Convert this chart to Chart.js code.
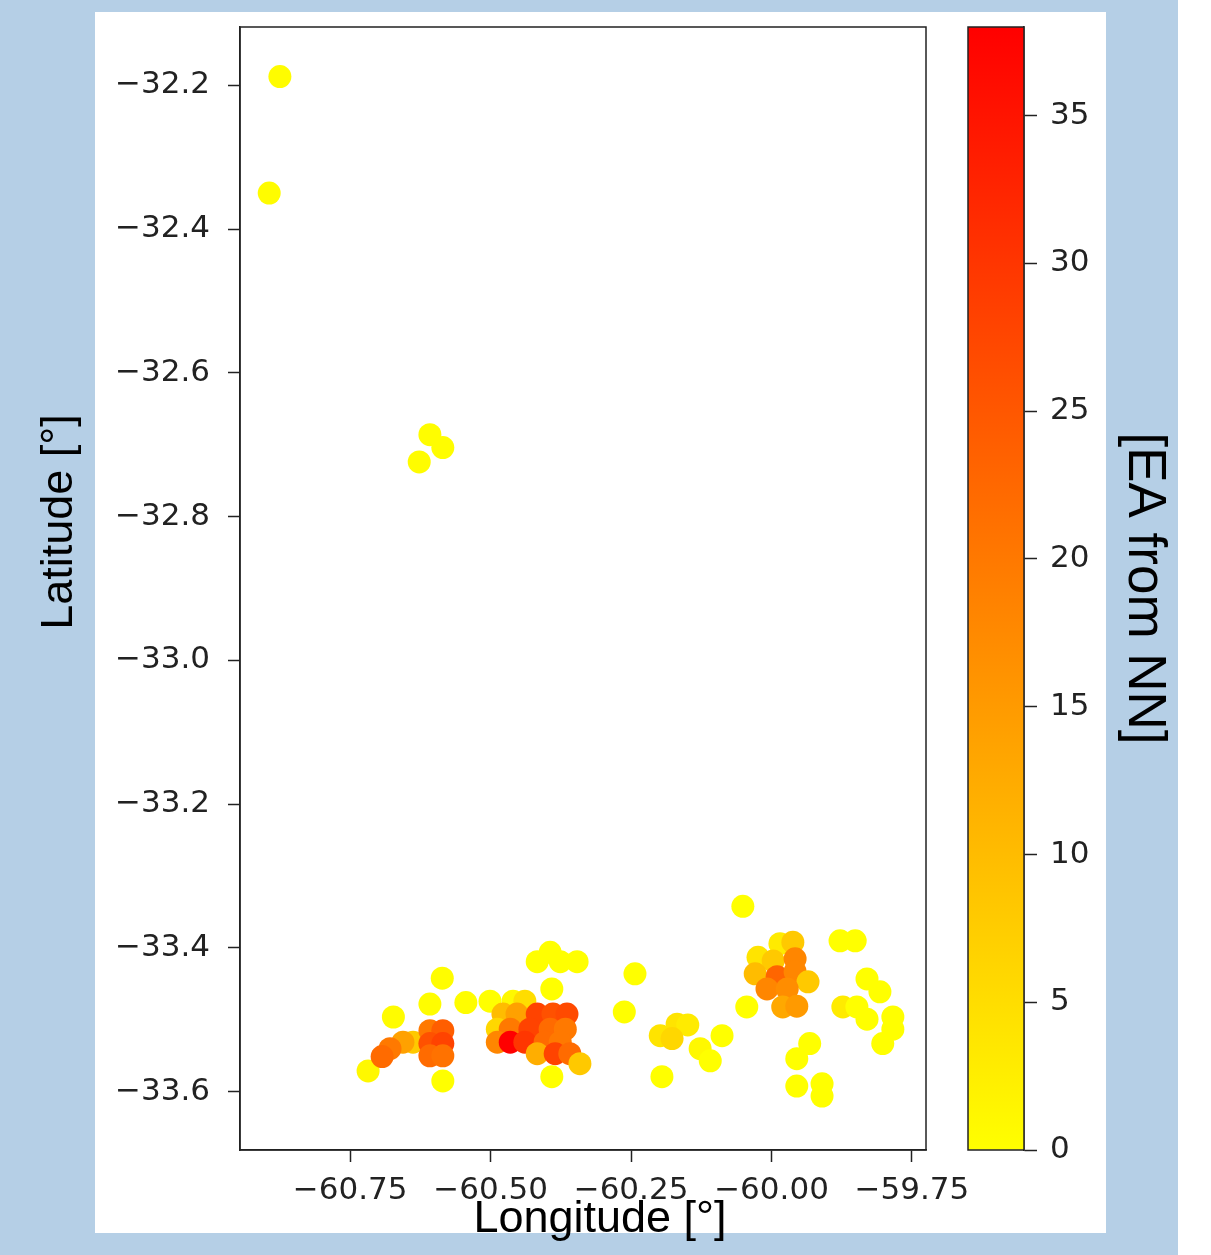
<!DOCTYPE html>
<html>
<head>
<meta charset="utf-8">
<script src="https://cdn.jsdelivr.net/npm/chart.js@4.4.1/dist/chart.umd.min.js"></script>
<style>
  html, body { margin: 0; padding: 0; background: #fff; width: 1211px; height: 1255px; overflow: hidden; }
  #frame { position: absolute; left: 0; top: 0; width: 1178px; height: 1255px; background: #b5cfe6; }
  #panel { position: absolute; left: 95px; top: 12px; width: 1011px; height: 1221px; background: #fff; }
  #map { position: absolute; left: 0; top: 0; }
  #bar { position: absolute; left: 940px; top: 0; }
</style>
</head>
<body>
<div id="frame"></div>
<div id="panel"></div>
<canvas id="map" width="1000" height="1255"></canvas>
<canvas id="bar" width="271" height="1255"></canvas>
<script>
// Station longitudes [°]
const lon = [
  -60.875, -60.894, -60.608, -60.585, -60.627,
  -60.586, -60.608, -60.544, -60.673, -60.718, -60.585,
  -60.638, -60.656, -60.679, -60.693,
  -60.608, -60.585, -60.608, -60.585, -60.608, -60.585,
  -60.394, -60.417, -60.376, -60.346, -60.391,
  -60.501, -60.460, -60.439,
  -60.478, -60.453, -60.417, -60.389, -60.364,
  -60.488, -60.465, -60.430, -60.394, -60.367,
  -60.488, -60.465, -60.439, -60.403, -60.376,
  -60.417, -60.385, -60.359, -60.341, -60.391,
  -60.243, -60.262, -60.198, -60.168, -60.149, -60.177,
  -60.127, -60.109, -60.088, -60.195,
  -60.051, -60.044, -60.024, -59.985, -59.962, -59.997, -59.958,
  -60.029, -59.990, -59.958, -59.935, -60.008, -59.972, -59.980, -59.955,
  -59.878, -59.851, -59.830, -59.807, -59.873, -59.848, -59.830,
  -59.784, -59.784, -59.802, -59.932, -59.955, -59.955, -59.910, -59.910
];
// Station latitudes [°]
const lat = [
  -32.188, -32.350, -32.686, -32.704, -32.724,
  -33.442, -33.478, -33.476, -33.496, -33.571, -33.585,
  -33.531, -33.531, -33.540, -33.551,
  -33.515, -33.515, -33.533, -33.533, -33.550, -33.550,
  -33.406, -33.419, -33.419, -33.419, -33.457,
  -33.474, -33.474, -33.474,
  -33.492, -33.492, -33.492, -33.492, -33.492,
  -33.513, -33.513, -33.513, -33.513, -33.513,
  -33.531, -33.531, -33.531, -33.531, -33.531,
  -33.547, -33.547, -33.547, -33.561, -33.579,
  -33.436, -33.489, -33.522, -33.506, -33.507, -33.526,
  -33.540, -33.557, -33.522, -33.579,
  -33.342, -33.482, -33.413, -33.394, -33.392, -33.418, -33.415,
  -33.436, -33.440, -33.433, -33.447, -33.457, -33.457, -33.482, -33.481,
  -33.390, -33.390, -33.443, -33.461, -33.482, -33.482, -33.499,
  -33.496, -33.513, -33.533, -33.533, -33.554, -33.592, -33.589, -33.606
];
// EA from NN at each station
const ea = [
  0.5, 0.5, 0.3, 0.3, 0.5,
  0.3, 0.3, 0.3, 0.5, 1, 0,
  8, 14, 20, 22,
  20, 24, 26, 28, 22, 21,
  0, 0, 0, 0, 0,
  0, 1, 5,
  10, 14, 28, 26, 27,
  6, 20, 28, 22, 20,
  18, 38.0, 30, 22, 20,
  12, 28, 22, 8, 0,
  0, 0, 4, 4, 3, 6,
  1, 0, 0, 0,
  0, 0, 4, 3, 8, 8, 18,
  10, 23, 18, 8, 18, 17, 13, 15,
  0, 0, 0, 0, 3, 0, 0,
  0, 0, 0, 0, 0, 0, 0, 0
];

const lonTicks = [-60.75, -60.5, -60.25, -60.0, -59.75];
const latTicks = [-33.6, -33.4, -33.2, -33.0, -32.8, -32.6, -32.4, -32.2];
const eaTicks = [0, 5, 10, 15, 20, 25, 30, 35];
const lonRange = [-60.946, -59.725];
const latRange = [-33.681, -32.119];

const eaMin = Math.min(...ea);
const eaMax = Math.max(...ea);

// reversed autumn colormap: yellow at the low end, red at the high end
function autumnR(v) {
  const t = (v - eaMin) / (eaMax - eaMin);
  return 'rgb(255,' + Math.round(255 * (1 - t)) + ',0)';
}

const minusFmt = (digits) => (v) => (v < 0 ? '\u2212' : '') + Math.abs(v).toFixed(digits);
const tickFont = { family: 'DejaVu Sans', size: 31 };
const ink = '#222';

// keep the plotting area fixed: no extra room for overhanging tick labels
function noOverhang(s) {
  s.paddingTop = 0;
  s.paddingBottom = 0;
  s.paddingLeft = 0;
  s.paddingRight = 0;
}

// black box around a chart's plotting area
const boxFrame = {
  id: 'boxFrame',
  afterDraw(chart) {
    const { ctx, chartArea: a } = chart;
    ctx.save();
    ctx.strokeStyle = ink;
    ctx.lineWidth = 1.5;
    ctx.strokeRect(a.left, a.top, a.right - a.left, a.bottom - a.top);
    ctx.restore();
  }
};

// axis captions of the map
const mapTitles = {
  id: 'mapTitles',
  afterDraw(chart) {
    const ctx = chart.ctx;
    ctx.save();
    ctx.fillStyle = '#000';
    ctx.font = '45px "Liberation Sans"';
    ctx.textAlign = 'center';
    ctx.textBaseline = 'middle';
    ctx.fillText('Longitude [°]', 600, 1220);
    ctx.translate(60, 522);
    ctx.rotate(-Math.PI / 2);
    ctx.fillText('Latitude [°]', 0, 0);
    ctx.restore();
  }
};

const points = lon.map((x, i) => ({ x: x, y: lat[i] }));

new Chart(document.getElementById('map'), {
  type: 'scatter',
  data: {
    datasets: [{
      data: points,
      pointBackgroundColor: ea.map(autumnR),
      pointBorderWidth: 0,
      pointRadius: 11.5,
      pointHoverRadius: 11.5
    }]
  },
  options: {
    responsive: false,
    animation: false,
    events: [],
    layout: { padding: { left: 0, top: 27, right: 74, bottom: 0 } },
    plugins: { legend: { display: false }, tooltip: { enabled: false } },
    scales: {
      x: {
        type: 'linear',
        position: 'bottom',
        min: lonRange[0],
        max: lonRange[1],
        afterBuildTicks: (s) => { s.ticks = lonTicks.map(v => ({ value: v })); },
        afterFit: (s) => { s.height = 105; noOverhang(s); },
        ticks: { font: tickFont, color: ink, padding: 10, maxRotation: 0, autoSkip: false, callback: minusFmt(2) },
        grid: { drawOnChartArea: false, drawTicks: true, tickLength: 12, tickWidth: 1.5, tickColor: ink },
        border: { display: true, color: ink, width: 1.5 }
      },
      y: {
        type: 'linear',
        position: 'left',
        min: latRange[0],
        max: latRange[1],
        afterBuildTicks: (s) => { s.ticks = latTicks.map(v => ({ value: v })); },
        afterFit: (s) => { s.width = 240; noOverhang(s); },
        ticks: { font: tickFont, color: ink, padding: 18, autoSkip: false, callback: minusFmt(1) },
        grid: { drawOnChartArea: false, drawTicks: true, tickLength: 12, tickWidth: 1.5, tickColor: ink },
        border: { display: true, color: ink, width: 1.5 }
      }
    }
  },
  plugins: [boxFrame, mapTitles]
});

new Chart(document.getElementById('bar'), {
  type: 'bar',
  data: {
    labels: ['EA'],
    datasets: [{
      data: [[eaMin, eaMax]],
      borderWidth: 0,
      barPercentage: 1,
      categoryPercentage: 1,
      backgroundColor: (c) => {
        const a = c.chart.chartArea;
        if (!a) return autumnR(eaMin);
        const g = c.chart.ctx.createLinearGradient(0, a.bottom, 0, a.top);
        g.addColorStop(0, autumnR(eaMin));
        g.addColorStop(1, autumnR(eaMax));
        return g;
      }
    }]
  },
  options: {
    responsive: false,
    animation: false,
    events: [],
    layout: { padding: { left: 28, top: 27, right: 0, bottom: 105 } },
    plugins: { legend: { display: false }, tooltip: { enabled: false } },
    scales: {
      x: { display: false },
      y: {
        type: 'linear',
        position: 'right',
        min: eaMin,
        max: eaMax,
        afterBuildTicks: (s) => { s.ticks = eaTicks.map(v => ({ value: v })); },
        afterFit: (s) => { s.width = 187; noOverhang(s); },
        ticks: { font: tickFont, color: ink, padding: 13, autoSkip: false, callback: (v) => String(v) },
        grid: { drawOnChartArea: false, drawTicks: true, tickLength: 13, tickWidth: 1.5, tickColor: ink },
        border: { display: true, color: ink, width: 1.5 },
        title: {
          display: true,
          text: '[EA from NN]',
          color: '#000',
          font: { family: 'Liberation Sans', size: 53, lineHeight: 1 },
          padding: { top: 41, bottom: 0 }
        }
      }
    }
  },
  plugins: [boxFrame]
});
</script>
</body>
</html>
